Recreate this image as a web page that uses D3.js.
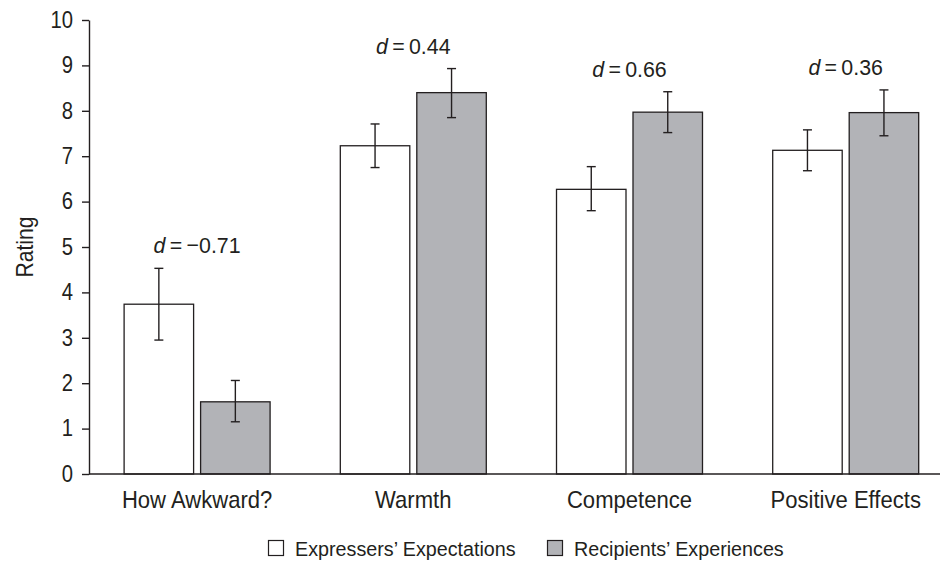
<!DOCTYPE html>
<html>
<head>
<meta charset="utf-8">
<script src="https://cdn.jsdelivr.net/npm/d3@7"></script>
<style>
  body { margin: 0; background: #fff; }
  svg text { font-family: "Liberation Sans", Arial, sans-serif; fill: #231f20; }
</style>
</head>
<body>
<div id="chart"></div>
<script>
// Data
const categories = ["How Awkward?", "Warmth", "Competence", "Positive Effects"];
const series = ["Expressers\u2019 Expectations", "Recipients\u2019 Experiences"];
const expMeans = [3.74, 7.23, 6.27, 7.13];
const expLower = [2.95, 6.75, 5.80, 6.68];
const expUpper = [4.53, 7.71, 6.77, 7.58];
const recMeans = [1.59, 8.40, 7.97, 7.96];
const recLower = [1.15, 7.85, 7.52, 7.45];
const recUpper = [2.06, 8.93, 8.42, 8.46];
const effectSizes = ["\u22120.71", "0.44", "0.66", "0.36"];
const yTicks = [0, 1, 2, 3, 4, 5, 6, 7, 8, 9, 10];

const fills = ["#ffffff", "#b2b3b7"];
const ink = "#231f20";

const W = 940, H = 561;
const plotLeft = 89, plotTop = 20, plotBottom = 474;

// the original uses a condensed face, so squeeze text horizontally
function condense(sel, sx) {
  sel.each(function () {
    const t = d3.select(this);
    const x = +t.attr("x") || 0;
    const y = +t.attr("y") || 0;
    const prev = t.attr("transform") || "";
    t.attr("x", 0).attr("y", 0)
      .attr("transform", prev + " translate(" + x + "," + y + ") scale(" + sx + ",1)");
  });
}

const svg = d3.select("#chart").append("svg")
  .attr("width", W)
  .attr("height", H);

// rows: one per bar
const rows = [];
categories.forEach((c, i) => {
  rows.push({ cat: c, s: series[0], mean: expMeans[i], lo: expLower[i], hi: expUpper[i] });
  rows.push({ cat: c, s: series[1], mean: recMeans[i], lo: recLower[i], hi: recUpper[i] });
});

const x0 = d3.scaleBand().domain(categories).range([plotLeft, plotLeft + 4 * 216.2]).padding(0);
const x1 = d3.scaleBand().domain(series).range([0, x0.bandwidth()])
  .paddingInner(0.0915).paddingOuter(0.459);
const y = d3.scaleLinear().domain([0, 10]).range([plotBottom, plotTop]);

// bars
svg.append("g").selectAll("rect")
  .data(rows)
  .enter().append("rect")
  .attr("x", d => x0(d.cat) + x1(d.s))
  .attr("y", d => y(d.mean))
  .attr("width", x1.bandwidth())
  .attr("height", d => y(0) - y(d.mean))
  .attr("fill", d => fills[series.indexOf(d.s)])
  .attr("stroke", ink)
  .attr("stroke-width", 1.3);

// error bars
const eb = svg.append("g").attr("stroke", ink).attr("stroke-width", 1.4);
rows.forEach(d => {
  const cx = x0(d.cat) + x1(d.s) + x1.bandwidth() / 2;
  eb.append("line").attr("x1", cx).attr("x2", cx).attr("y1", y(d.lo)).attr("y2", y(d.hi));
  eb.append("line").attr("x1", cx - 4.5).attr("x2", cx + 4.5).attr("y1", y(d.lo)).attr("y2", y(d.lo));
  eb.append("line").attr("x1", cx - 4.5).attr("x2", cx + 4.5).attr("y1", y(d.hi)).attr("y2", y(d.hi));
});

// effect size labels
categories.forEach((c, i) => {
  const t = svg.append("text")
    .attr("x", x0(c) + x0.bandwidth() / 2)
    .attr("y", y(Math.max(expUpper[i], recUpper[i])) - 15)
    .attr("text-anchor", "middle")
    .style("font-size", "23px");
  t.append("tspan").style("font-style", "italic").text("d");
  t.append("tspan").text("\u2009=\u2009" + effectSizes[i]);
  condense(t, 0.93);
});

// y axis
const yAxis = svg.append("g")
  .attr("transform", "translate(" + plotLeft + ",0)")
  .call(d3.axisLeft(y).tickValues(yTicks).tickSize(7).tickPadding(9).tickSizeOuter(0));
yAxis.select(".domain").attr("stroke", ink).attr("stroke-width", 1.4);
yAxis.selectAll(".tick line").attr("stroke", ink).attr("stroke-width", 1.4);
yAxis.selectAll("text").style("font-size", "23px").attr("fill", ink).call(condense, 0.88);

// x axis
const xAxis = svg.append("g")
  .attr("transform", "translate(0," + plotBottom + ")")
  .call(d3.axisBottom(x0).tickSize(0).tickPadding(17).tickSizeOuter(0));
xAxis.select(".domain").remove();
xAxis.append("line")
  .attr("x1", plotLeft).attr("x2", W)
  .attr("y1", 0).attr("y2", 0)
  .attr("stroke", ink).attr("stroke-width", 1.6);
xAxis.selectAll(".tick text").style("font-size", "24px").attr("fill", ink).call(condense, 0.92);

// y title
const yTitle = svg.append("text")
  .attr("transform", "translate(33," + ((plotTop + plotBottom) / 2) + ") rotate(-90)")
  .attr("text-anchor", "middle")
  .style("font-size", "23px")
  .text("Rating");
condense(yTitle, 0.92);

// legend
const legendX = [268, 547];
series.forEach((s, i) => {
  svg.append("rect")
    .attr("x", legendX[i] + 0.5).attr("y", 540.5)
    .attr("width", 15).attr("height", 15)
    .attr("fill", fills[i]).attr("stroke", ink).attr("stroke-width", 1.2);
  svg.append("text")
    .attr("x", legendX[i] + 27).attr("y", 556)
    .style("font-size", "21px")
    .text(s)
    .call(condense, 0.94);
});
</script>
</body>
</html>
